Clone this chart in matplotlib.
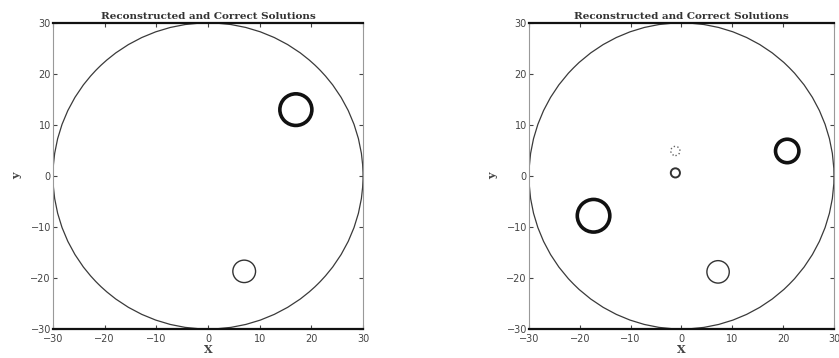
import matplotlib.pyplot as plt
from matplotlib.patches import Circle

# domain boundary
domain_radius = 30

# left panel: (x, y, radius) of each inclusion
left_x = [17, 7]
left_y = [13, -18.7]
left_r = [3.1, 2.2]
left_style = ['thick', 'thin']

# right panel
right_x = [20.8, -17.3, 7.2, -1.2, -1.2]
right_y = [4.9, -7.8, -18.8, 4.9, 0.6]
right_r = [2.3, 3.2, 2.2, 0.9, 0.9]
right_style = ['thick', 'thick', 'thin', 'dotted', 'small']

ticks = [-30, -20, -10, 0, 10, 20, 30]

styles = {
    'thick':  dict(lw=2.6, color='#111111', ls='-'),
    'thin':   dict(lw=1.0, color='#333333', ls='-'),
    'small':  dict(lw=1.4, color='#333333', ls='-'),
    'dotted': dict(lw=1.0, color='#666666', ls=':'),
}

fig = plt.figure(figsize=(8.39, 3.58), dpi=100)
ax1 = fig.add_axes([0.0632, 0.081, 0.3695, 0.855])
ax2 = fig.add_axes([0.6305, 0.081, 0.3635, 0.855])


def draw_panel(ax, xs, ys, rs, kinds):
    ax.add_patch(Circle((0, 0), domain_radius, fill=False, lw=0.9, color='#3a3a3a'))
    for x, y, r, k in zip(xs, ys, rs, kinds):
        ax.add_patch(Circle((x, y), r, fill=False, **styles[k]))
    ax.set_xlim(-30, 30)
    ax.set_ylim(-30, 30)
    ax.set_xticks(ticks)
    ax.set_yticks(ticks)
    ax.tick_params(direction='in', top=True, right=True, length=3,
                   labelsize=7, colors='#444444', pad=1.5)
    ax.tick_params(axis='x', pad=3.5)
    for side in ['top', 'bottom']:
        ax.spines[side].set_linewidth(1.6)
        ax.spines[side].set_color('#111111')
    for side in ['left', 'right']:
        ax.spines[side].set_linewidth(0.8)
        ax.spines[side].set_color('#999999')
    ax.set_title('Reconstructed and Correct Solutions', fontsize=7.5,
                 family='DejaVu Serif', fontweight='bold', color='#333333', pad=3)
    ax.set_xlabel('X', fontsize=8, family='DejaVu Serif', fontweight='bold',
                  color='#444444', labelpad=0)
    ax.set_ylabel('y', fontsize=8, family='DejaVu Serif', fontweight='bold',
                  color='#444444', labelpad=6)


draw_panel(ax1, left_x, left_y, left_r, left_style)
draw_panel(ax2, right_x, right_y, right_r, right_style)

fig.savefig('out.png', dpi=100)
